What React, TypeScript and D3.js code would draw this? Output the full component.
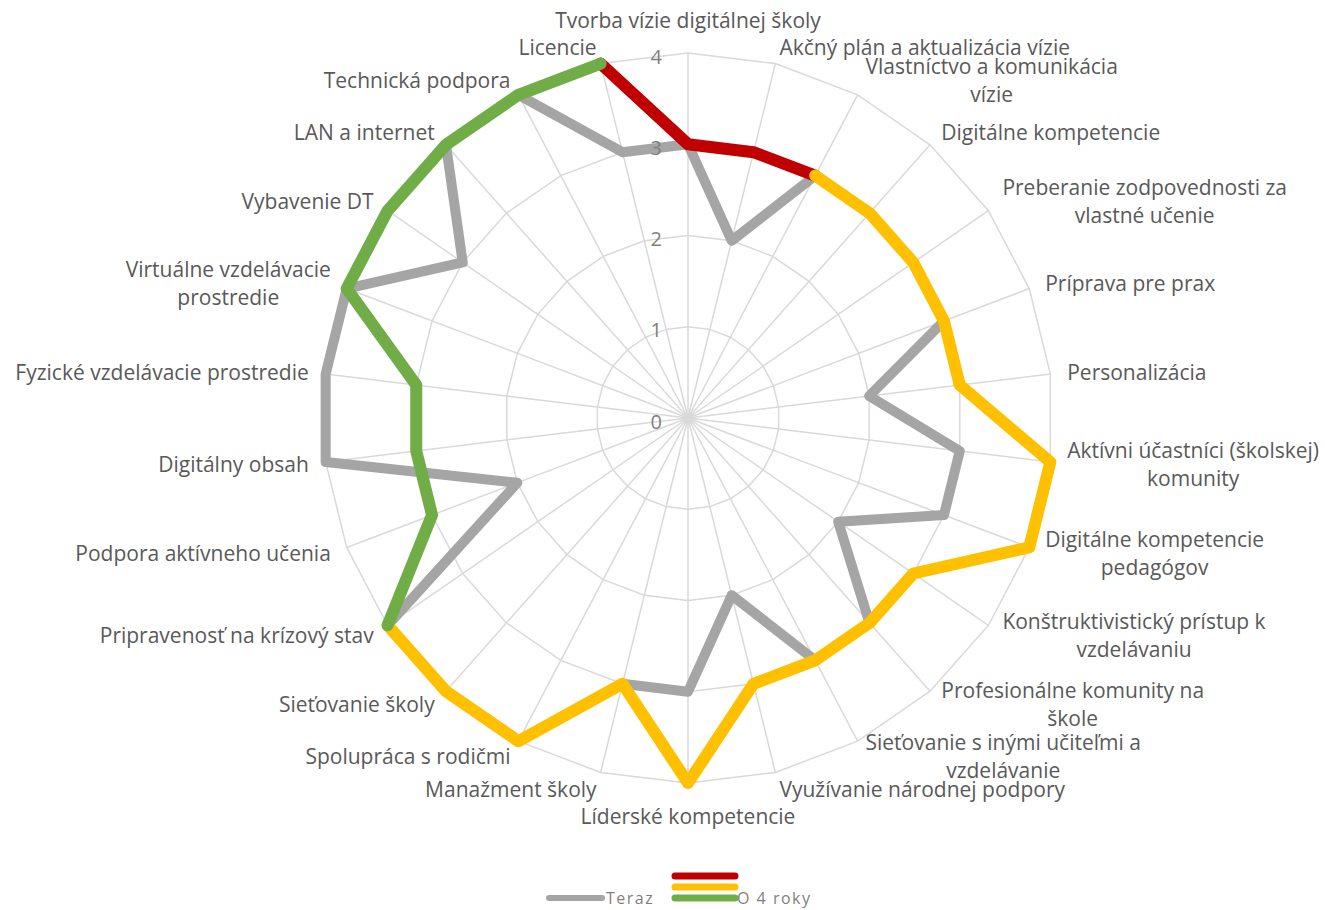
import React, { useRef, useEffect } from 'react';
import * as d3 from 'd3';

const categories = [
  'Tvorba vízie digitálnej školy',
  'Akčný plán a aktualizácia vízie',
  'Vlastníctvo a komunikácia|vízie',
  'Digitálne kompetencie',
  'Preberanie zodpovednosti za|vlastné učenie',
  'Príprava pre prax',
  'Personalizácia',
  'Aktívni účastníci (školskej)|komunity',
  'Digitálne kompetencie|pedagógov',
  'Konštruktivistický prístup k|vzdelávaniu',
  'Profesionálne komunity na|škole',
  'Sieťovanie s inými učiteľmi a|vzdelávanie',
  'Využívanie národnej podpory',
  'Líderské kompetencie',
  'Manažment školy',
  'Spolupráca s rodičmi',
  'Sieťovanie školy',
  'Pripravenosť na krízový stav',
  'Podpora aktívneho učenia',
  'Digitálny obsah',
  'Fyzické vzdelávacie prostredie',
  'Virtuálne vzdelávacie|prostredie',
  'Vybavenie DT',
  'LAN a internet',
  'Technická podpora',
  'Licencie',
];

type V = number | null;
const _ = null;

const teraz: V[] = [3, 2, 3, 3, 3, 3, 2, 3, 3, 2, 3, 3, 2, 3, 3, 4, 4, 4, 2, 4, 4, 4, 3, 4, 4, 3];
const o4Red: V[] = [3, 3, 3, _, _, _, _, _, _, _, _, _, _, _, _, _, _, _, _, _, _, _, _, _, _, 4];
const o4Yellow: V[] = [_, _, 3, 3, 3, 3, 3, 4, 4, 3, 3, 3, 3, 4, 3, 4, 4, 4, _, _, _, _, _, _, _, _];
const o4Green: V[] = [_, _, _, _, _, _, _, _, _, _, _, _, _, _, _, _, _, 4, 3, 3, 3, 4, 4, 4, 4, 4];

const ticks = [0, 1, 2, 3, 4];

const W = 1325;
const H = 910;
const cx = 688;
const cy = 418;
const R = 365;
const FONT = "'Open Sans', sans-serif";

const App = () => {
  const svgRef = useRef<SVGSVGElement>(null);

  useEffect(() => {
    document.body.style.margin = '0';
    const svg = d3.select(svgRef.current);
    svg.selectAll('*').remove();

    const n = categories.length;
    const angle = d3.scaleLinear().domain([0, n]).range([0, 2 * Math.PI]);
    const r = d3.scaleLinear().domain([0, 4]).range([0, R]);

    const g = svg.append('g').attr('transform', `translate(${cx},${cy})`);

    // grid rings
    const ring = d3
      .lineRadial<number>()
      .angle((i) => angle(i))
      .radius(0)
      .curve(d3.curveLinearClosed);
    ticks.slice(1).forEach((t) => {
      g.append('path')
        .attr('d', ring.radius(r(t))(d3.range(n)))
        .attr('fill', 'none')
        .attr('stroke', '#d9d9d9')
        .attr('stroke-width', 1.5);
    });
    // spokes
    g.selectAll('.spoke')
      .data(d3.range(n))
      .join('line')
      .attr('x1', 0)
      .attr('y1', 0)
      .attr('x2', (i) => r(4) * Math.sin(angle(i)))
      .attr('y2', (i) => -r(4) * Math.cos(angle(i)))
      .attr('stroke', '#d9d9d9')
      .attr('stroke-width', 1.5);

    // series
    const drawSeries = (vals: V[], color: string, width: number) => {
      const pts = d3.range(n + 1).map((i) => ({ i, v: vals[i % n] }));
      const line = d3
        .lineRadial<{ i: number; v: V }>()
        .defined((d) => d.v !== null)
        .angle((d) => angle(d.i))
        .radius((d) => r(d.v as number));
      g.append('path')
        .attr('d', line(pts))
        .attr('fill', 'none')
        .attr('stroke', color)
        .attr('stroke-width', width)
        .attr('stroke-linecap', 'round')
        .attr('stroke-linejoin', 'round');
    };
    drawSeries(teraz, '#a5a5a5', 10);
    drawSeries(o4Red, '#c00000', 12);
    drawSeries(o4Yellow, '#ffc000', 12);
    drawSeries(o4Green, '#70ad47', 12);

    // tick labels
    g.selectAll('.tick')
      .data(ticks)
      .join('text')
      .attr('x', -26)
      .attr('y', (t) => -r(t) + 3)
      .attr('text-anchor', 'end')
      .attr('dominant-baseline', 'central')
      .attr('font-family', FONT)
      .attr('font-size', 20)
      .attr('fill', '#7f7f7f')
      .text((t) => t);

    // category labels
    const RL = R + 17;
    const LH = 28;
    categories.forEach((c, i) => {
      const a = angle(i);
      const s = Math.sin(a);
      const co = Math.cos(a);
      const x = RL * s;
      let y = -RL * co;
      const lines = c.split('|');
      const anchor = s > 0.1 ? 'start' : s < -0.1 ? 'end' : 'middle';
      if (anchor === 'middle') y -= co * 16;
      const t = g.append('text')
        .attr('font-family', FONT)
        .attr('font-size', 21)
        .attr('fill', '#595959')
        .attr('text-anchor', 'middle')
        .attr('dominant-baseline', 'central');
      const spans = lines.map((l, k) =>
        t.append('tspan').attr('y', y + (k - (lines.length - 1) / 2) * LH).text(l)
      );
      const widths = spans.map((sp) => (sp.node() as SVGTSpanElement).getComputedTextLength());
      const bw = Math.max(...widths);
      const mid = anchor === 'start' ? x + bw / 2 : anchor === 'end' ? x - bw / 2 : x;
      spans.forEach((sp) => sp.attr('x', mid));
    });

    // legend
    const lg = svg.append('g')
      .attr('font-family', FONT)
      .attr('font-size', 16)
      .attr('letter-spacing', 1.5)
      .attr('fill', '#7f7f7f');
    lg.append('line').attr('x1', 549).attr('x2', 602).attr('y1', 898).attr('y2', 898)
      .attr('stroke', '#a5a5a5').attr('stroke-width', 6).attr('stroke-linecap', 'round');
    lg.append('text').attr('x', 606).attr('y', 898).attr('dominant-baseline', 'central').text('Teraz');
    [['#c00000', 876], ['#ffc000', 887], ['#70ad47', 898]].forEach(([col, yy]) => {
      lg.append('line').attr('x1', 675).attr('x2', 735).attr('y1', yy as number).attr('y2', yy as number)
        .attr('stroke', col as string).attr('stroke-width', 7).attr('stroke-linecap', 'round');
    });
    lg.append('text').attr('x', 737).attr('y', 898).attr('dominant-baseline', 'central').text('O 4 roky');
  }, []);

  return <svg ref={svgRef} width={W} height={H} style={{ display: 'block', background: '#fff' }} />;
};

export default App;
